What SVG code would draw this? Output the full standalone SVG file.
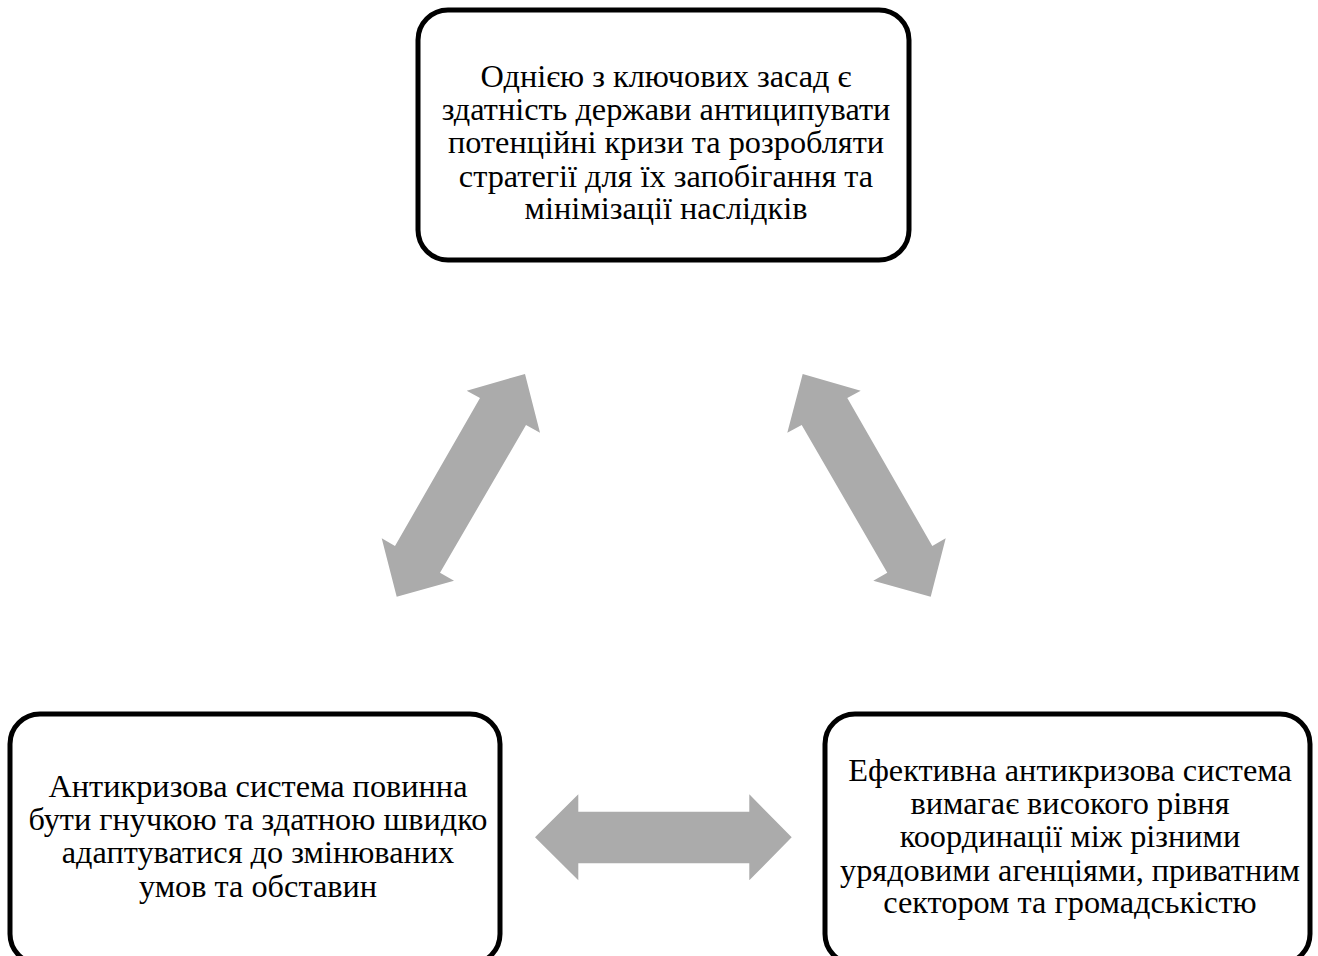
<svg xmlns="http://www.w3.org/2000/svg" width="1318" height="956" viewBox="0 0 1318 956">
<style>
.box{fill:#fff;stroke:#000;stroke-width:5}
.t{font-family:"Liberation Serif","Times New Roman",serif;font-size:32.3px;fill:#000;text-anchor:middle}
.arr{fill:#ABABAB;stroke:none}
</style>
<rect width="1318" height="956" fill="#fff"/>
<g id="connectors">
<polygon class="arr" points="525,374 540,432.7 526,425 440,572.7 454,580.7 396.7,596.7 381.7,538.3 395,546 480,398 466.7,390.7"/>
<polygon class="arr" points="802.7,374 787.3,432.7 801.7,425 887.3,572.7 873.3,580.7 930.7,596.7 945.7,538.3 932.3,546 847.3,398 860.7,390.7"/>
<polygon class="arr" points="535,837.3 578.3,794.3 578.3,811.7 749.3,811.7 749.3,794.3 791.7,837.3 749.3,880.3 749.3,863.3 578.3,863.3 578.3,880.3"/>
</g>
<g id="node-top">
<rect class="box" x="418" y="10" width="491" height="250" rx="30"/>
<text class="t" x="666" y="87">Однією з ключових засад є</text>
<text class="t" x="666" y="120">здатність держави антиципувати</text>
<text class="t" x="666" y="153.3">потенційні кризи та розробляти</text>
<text class="t" x="666" y="186.5">стратегії для їх запобігання та</text>
<text class="t" x="666" y="219">мінімізації наслідків</text>
</g>
<g id="node-left">
<rect class="box" x="10" y="714" width="490" height="250" rx="30"/>
<text class="t" x="258" y="797">Антикризова система повинна</text>
<text class="t" x="258" y="830">бути гнучкою та здатною швидко</text>
<text class="t" x="258" y="863.3">адаптуватися до змінюваних</text>
<text class="t" x="258" y="896.7">умов та обставин</text>
</g>
<g id="node-right">
<rect class="box" x="825" y="714" width="485" height="250" rx="30"/>
<text class="t" x="1070" y="780.7">Ефективна антикризова система</text>
<text class="t" x="1070" y="814">вимагає високого рівня</text>
<text class="t" x="1070" y="847.3">координації між різними</text>
<text class="t" x="1070" y="880.7">урядовими агенціями, приватним</text>
<text class="t" x="1070" y="913.3">сектором та громадськістю</text>
</g>
</svg>
